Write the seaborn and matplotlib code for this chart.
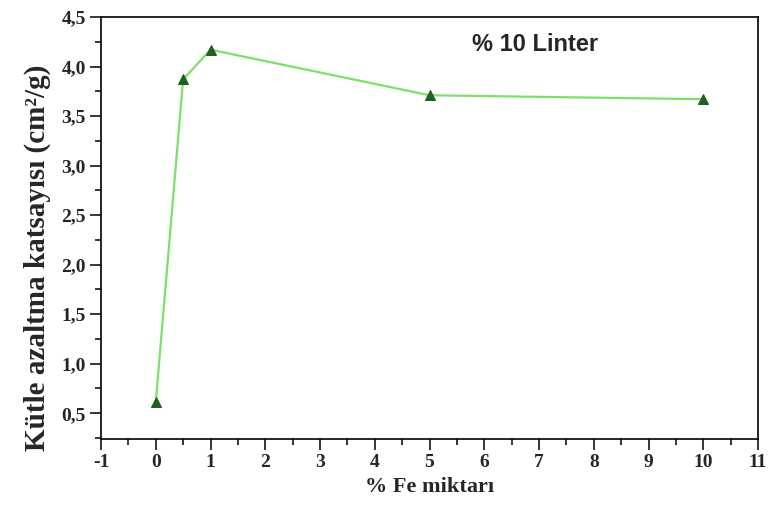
import matplotlib
matplotlib.use("Agg")
import matplotlib.pyplot as plt
import seaborn as sns
import pandas as pd
from matplotlib.ticker import MultipleLocator, FuncFormatter

fe_amount = [0, 0.5, 1, 5, 10]
attenuation = [0.61, 3.87, 4.17, 3.71, 3.67]
x_ticks = list(range(-1, 12))
y_ticks = [0.5, 1.0, 1.5, 2.0, 2.5, 3.0, 3.5, 4.0, 4.5]

df = pd.DataFrame({"fe": fe_amount, "mac": attenuation})

sns.set_style("white")
plt.rcParams['font.family'] = ['Liberation Serif', 'DejaVu Serif']
plt.rcParams['font.weight'] = 'bold'
plt.rcParams['axes.unicode_minus'] = False

W, H = 769, 513
left, right, top, bottom = 101, 758, 17, 439
fig = plt.figure(figsize=(W / 100, H / 100), dpi=100)
ax = fig.add_axes([left / W, 1 - bottom / H, (right - left) / W, (bottom - top) / H])

sns.lineplot(data=df, x="fe", y="mac", ax=ax, color="#7ee06a", linewidth=1.6,
             marker="^", markersize=7, markerfacecolor="#1f5f1f",
             markeredgecolor="#1f5f1f")

ax.set_xlim(-1, 11)
ax.set_ylim(0.24, 4.5)
ax.set_xticks(x_ticks)
ax.set_yticks(y_ticks)
ax.xaxis.set_minor_locator(MultipleLocator(0.5))
ax.yaxis.set_minor_locator(MultipleLocator(0.25))
ax.yaxis.set_major_formatter(FuncFormatter(lambda v, p: f"{v:.1f}".replace(".", ",")))
ax.tick_params(axis="both", which="major", direction="out", length=8, width=1.1,
               labelsize=14, color="black", bottom=True, left=True, pad=3)
ax.tick_params(axis="both", which="minor", direction="out", length=4.5, width=1.1,
               color="black", bottom=True, left=True)

for s in ax.spines.values():
    s.set_color("black")
    s.set_linewidth(1.2)

ax.set_xlabel("% Fe miktarı", fontsize=16, fontweight="bold", labelpad=4)
ax.set_ylabel("Kütle azaltma katsayısı (cm²/g)", fontsize=21, fontweight="bold")
ax.yaxis.set_label_coords(-0.076, 0.43)

ax.text(0.66, 0.935, "% 10 Linter", transform=ax.transAxes, fontsize=17,
        fontweight="bold", family=["Liberation Sans", "DejaVu Sans"],
        ha="center", va="center")

fig.savefig("out.png", dpi=100)
